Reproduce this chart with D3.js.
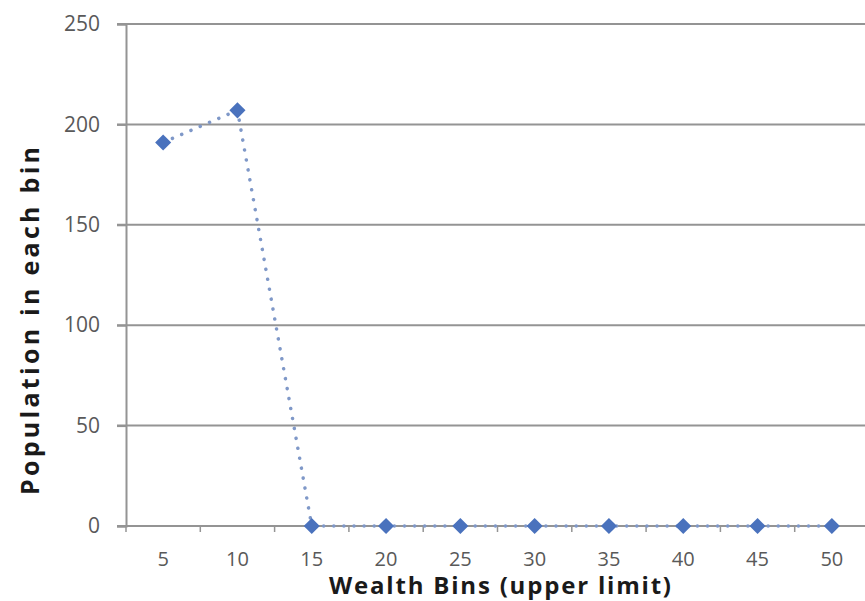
<!DOCTYPE html>
<html>
<head>
<meta charset="utf-8">
<script src="https://cdn.jsdelivr.net/npm/d3@7"></script>
<style>
  body { margin: 0; background: #fff; }
  text { font-family: "Open Sans", "DejaVu Sans", sans-serif; }
</style>
</head>
<body>
<div id="chart"></div>
<script>
var categories = ["5", "10", "15", "20", "25", "30", "35", "40", "45", "50"];
var population = [191, 207, 0, 0, 0, 0, 0, 0, 0, 0];
var yTicks = [0, 50, 100, 150, 200, 250];

var width = 865, height = 601;
var margin = {top: 24, right: -4, bottom: 75, left: 126};

var svg = d3.select("#chart")
  .append("svg")
  .attr("width", width)
  .attr("height", height);

var x = d3.scaleBand()
  .domain(categories)
  .range([margin.left, width - margin.right])
  .padding(0);

var y = d3.scaleLinear()
  .domain([0, 250])
  .range([height - margin.bottom, margin.top]);

// gridlines
svg.append("g")
  .selectAll("line")
  .data(yTicks.filter(function(d) { return d > 0; }))
  .enter()
  .append("line")
  .attr("x1", margin.left - 9)
  .attr("x2", width)
  .attr("y1", function(d) { return y(d); })
  .attr("y2", function(d) { return y(d); })
  .attr("stroke", "#949494")
  .attr("stroke-width", 2);

// y axis
var yAxis = svg.append("g")
  .attr("transform", "translate(" + margin.left + ",0)")
  .call(d3.axisLeft(y).tickValues(yTicks).tickSize(9).tickPadding(17));
yAxis.select(".domain").attr("stroke", "#949494").attr("stroke-width", 2);
yAxis.selectAll(".tick line").attr("stroke", "#949494").attr("stroke-width", 2);
yAxis.selectAll("text")
  .attr("fill", "#595959")
  .style("font-size", "21px");

// x axis
var xAxis = svg.append("g")
  .attr("transform", "translate(0," + y(0) + ")")
  .call(d3.axisBottom(x).tickSize(0).tickPadding(26));
xAxis.select(".domain").remove();
xAxis.selectAll("text")
  .attr("fill", "#595959")
  .style("font-size", "20px");

svg.append("line")
  .attr("x1", margin.left - 9)
  .attr("x2", width)
  .attr("y1", y(0))
  .attr("y2", y(0))
  .attr("stroke", "#949494")
  .attr("stroke-width", 2);

// minor tick marks between categories
svg.append("g")
  .selectAll("line")
  .data(categories)
  .enter()
  .append("line")
  .attr("x1", function(d) { return x(d); })
  .attr("x2", function(d) { return x(d); })
  .attr("y1", y(0))
  .attr("y2", y(0) + 6)
  .attr("stroke", "#949494")
  .attr("stroke-width", 1.5);

// line
var line = d3.line()
  .x(function(d, i) { return x(categories[i]) + x.bandwidth() / 2; })
  .y(function(d) { return y(d); });

svg.append("path")
  .datum(population)
  .attr("d", line)
  .attr("fill", "none")
  .attr("stroke", "#7f98c8")
  .attr("stroke-width", 3.5)
  .attr("stroke-linecap", "round")
  .attr("stroke-dasharray", "0.1,10");

// diamond markers
svg.append("g")
  .selectAll("path")
  .data(population)
  .enter()
  .append("path")
  .attr("d", d3.symbol().type(d3.symbolDiamond2).size(165))
  .attr("transform", function(d, i) {
    return "translate(" + (x(categories[i]) + x.bandwidth() / 2) + "," + y(d) + ")";
  })
  .attr("fill", "#4a72bd");

// axis titles
svg.append("text")
  .attr("x", 500)
  .attr("y", 594)
  .attr("text-anchor", "middle")
  .attr("font-weight", "bold")
  .attr("fill", "#1a1a1a")
  .attr("textLength", 342)
  .attr("lengthAdjust", "spacing")
  .style("font-size", "24px")
  .text("Wealth Bins (upper limit)");

svg.append("text")
  .attr("transform", "translate(39,321) rotate(-90)")
  .attr("text-anchor", "middle")
  .attr("font-weight", "bold")
  .attr("fill", "#1a1a1a")
  .attr("textLength", 348)
  .attr("lengthAdjust", "spacing")
  .style("font-size", "25px")
  .text("Population in each bin");
</script>
</body>
</html>
